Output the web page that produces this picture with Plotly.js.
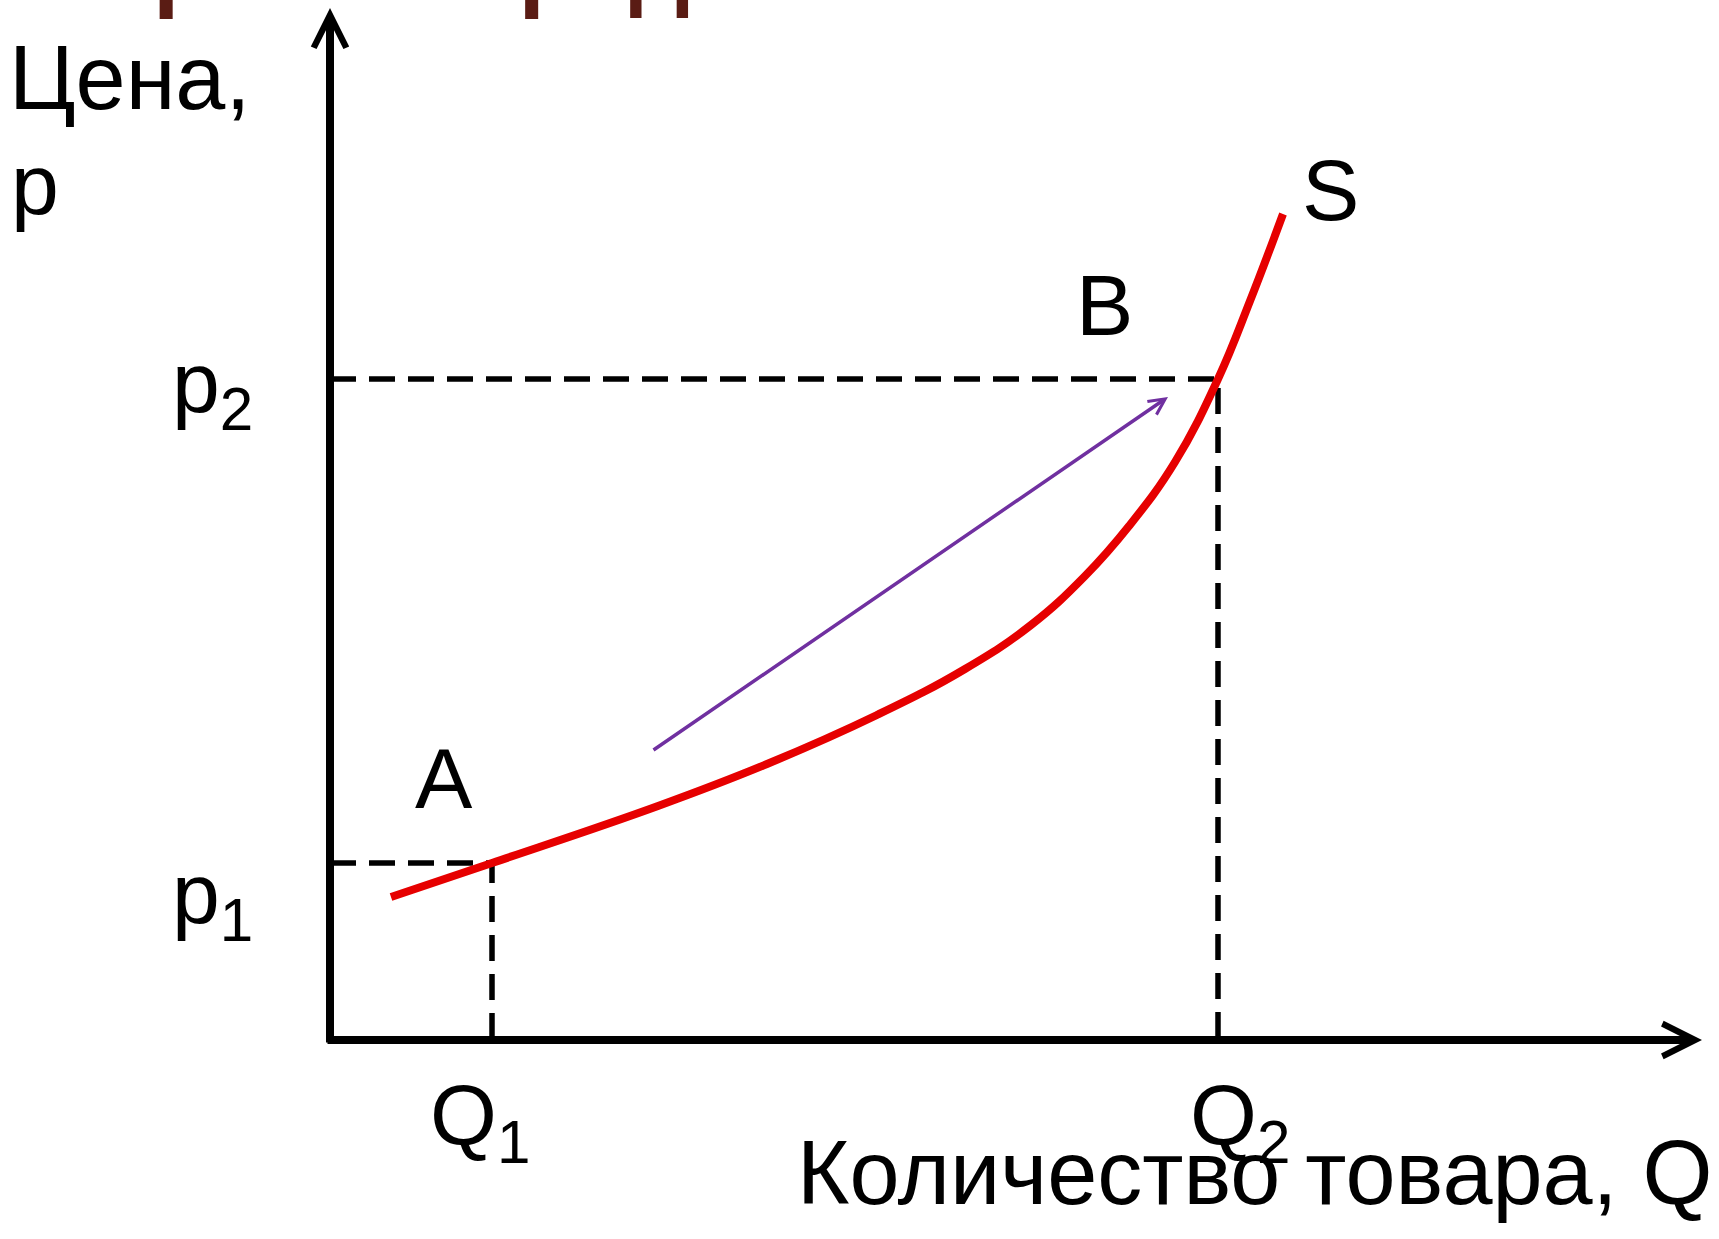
<!DOCTYPE html>
<html><head><meta charset="utf-8">
<script src="https://cdn.plot.ly/plotly-3.0.1.min.js"></script>
<style>html,body{margin:0;padding:0;background:#fff;overflow:hidden}</style>
</head><body><div id="chart" style="width:1719px;height:1239px"></div>
<script>
// ---- data (quantity Q, price p, arbitrary units) ----
const supplyQ = [0.61, 1.62, 3.28, 4.37, 5.47, 6.35, 7.01, 7.55, 7.99, 8.45, 8.88, 9.20, 9.53];
const supplyP = [1.43, 1.77, 2.34, 2.76, 3.25, 3.71, 4.15, 4.64, 5.14, 5.78, 6.61, 7.39, 8.26];
const marketQ = [1.62, 8.88];          // Q1, Q2
const marketP = [1.77, 6.61];          // p1, p2
const qTickLabels = ['Q<sub>1</sub>', 'Q<sub>2</sub>'];
const pTickLabels = ['p<sub>1</sub>', 'p<sub>2</sub>'];
const pointLabels = ['A', 'B'];
const moveTail = [3.22, 2.89];         // start of movement arrow (Q, p)
const moveHead = [8.38, 6.43];         // end of movement arrow (Q, p)
const axisMax = [13.72, 10.32];        // arrow tips of Q and p axes
const yAxisTitle = ['Цена,', 'р'];
const xAxisTitle = 'Количество товара, Q';
const curveName = 'S';
const slideTitle = 'Кривая предложения';

// ---- styles ----
const FONT = 'Liberation Sans, Arial, sans-serif';
const SIZE = 86;
const lbl = (text, x, y, xanchor, size) => ({
  text, x, y, xref: 'x', yref: 'y', xanchor: xanchor || 'left', yanchor: 'middle',
  showarrow: false, font: {family: FONT, size: size || SIZE, color: '#000'}
});

const traces = [];
for (let i = 0; i < 2; i++) {
  traces.push({
    type: 'scatter', mode: 'lines', hoverinfo: 'skip',
    x: [0, marketQ[i], marketQ[i]], y: [marketP[i], marketP[i], 0],
    line: {color: '#000', width: 5.5, dash: '26px,13px'}
  });
}
traces.push({
  type: 'scatter', mode: 'lines', name: curveName, hoverinfo: 'skip',
  x: supplyQ, y: supplyP,
  line: {color: '#e60000', width: 8, shape: 'spline', smoothing: 1.2}
});

const annotations = [
  // axes with open arrow heads
  {x: axisMax[0], y: 0, ax: -0.04, ay: 0, xref: 'x', yref: 'y', axref: 'x', ayref: 'y',
   text: '', showarrow: true, arrowhead: 5, arrowwidth: 8, arrowsize: 0.8, arrowcolor: '#000', standoff: 0, startstandoff: 0},
  {x: 0, y: axisMax[1], ax: 0, ay: -0.04, xref: 'x', yref: 'y', axref: 'x', ayref: 'y',
   text: '', showarrow: true, arrowhead: 5, arrowwidth: 8, arrowsize: 0.8, arrowcolor: '#000', standoff: 0, startstandoff: 0},
  // movement along the curve
  {x: moveHead[0], y: moveHead[1], ax: moveTail[0], ay: moveTail[1], xref: 'x', yref: 'y', axref: 'x', ayref: 'y',
   text: '', showarrow: true, arrowhead: 5, arrowwidth: 3.5, arrowsize: 0.9, arrowcolor: '#7030a0', standoff: 0, startstandoff: 0},
  // axis titles
  lbl(yAxisTitle[0], -3.23, 9.62, 'left', 90),
  lbl(yAxisTitle[1], -3.21, 8.56),
  lbl(xAxisTitle, 13.85, -1.33, 'right', 90),
  // price / quantity labels
  lbl(pTickLabels[1], -1.60, 6.52),
  lbl(pTickLabels[0], -1.60, 1.41),
  lbl(qTickLabels[0], 0.98, -0.81),
  lbl(qTickLabels[1], 8.58, -0.81),
  // points and curve name
  lbl(pointLabels[0], 0.83, 2.62),
  lbl(pointLabels[1], 7.44, 7.35),
  lbl(curveName, 9.70, 8.50),
  // slide title, cut by the top edge
  {text: slideTitle, x: 0.054, y: 1.0274, xref: 'paper', yref: 'paper', xanchor: 'left', yanchor: 'middle',
   showarrow: false, font: {family: FONT, size: 95, color: '#5a1c14', weight: 700}}
];

const layout = {
  width: 1719, height: 1239,
  margin: {l: 0, r: 0, t: 0, b: 0, pad: 0},
  paper_bgcolor: '#fff', plot_bgcolor: '#fff',
  showlegend: false,
  xaxis: {range: [-3.30, 13.89], visible: false, fixedrange: true},
  yaxis: {range: [-1.99, 10.40], visible: false, fixedrange: true},
  annotations
};
Plotly.newPlot('chart', traces, layout, {displayModeBar: false, staticPlot: true});
</script></body></html>
